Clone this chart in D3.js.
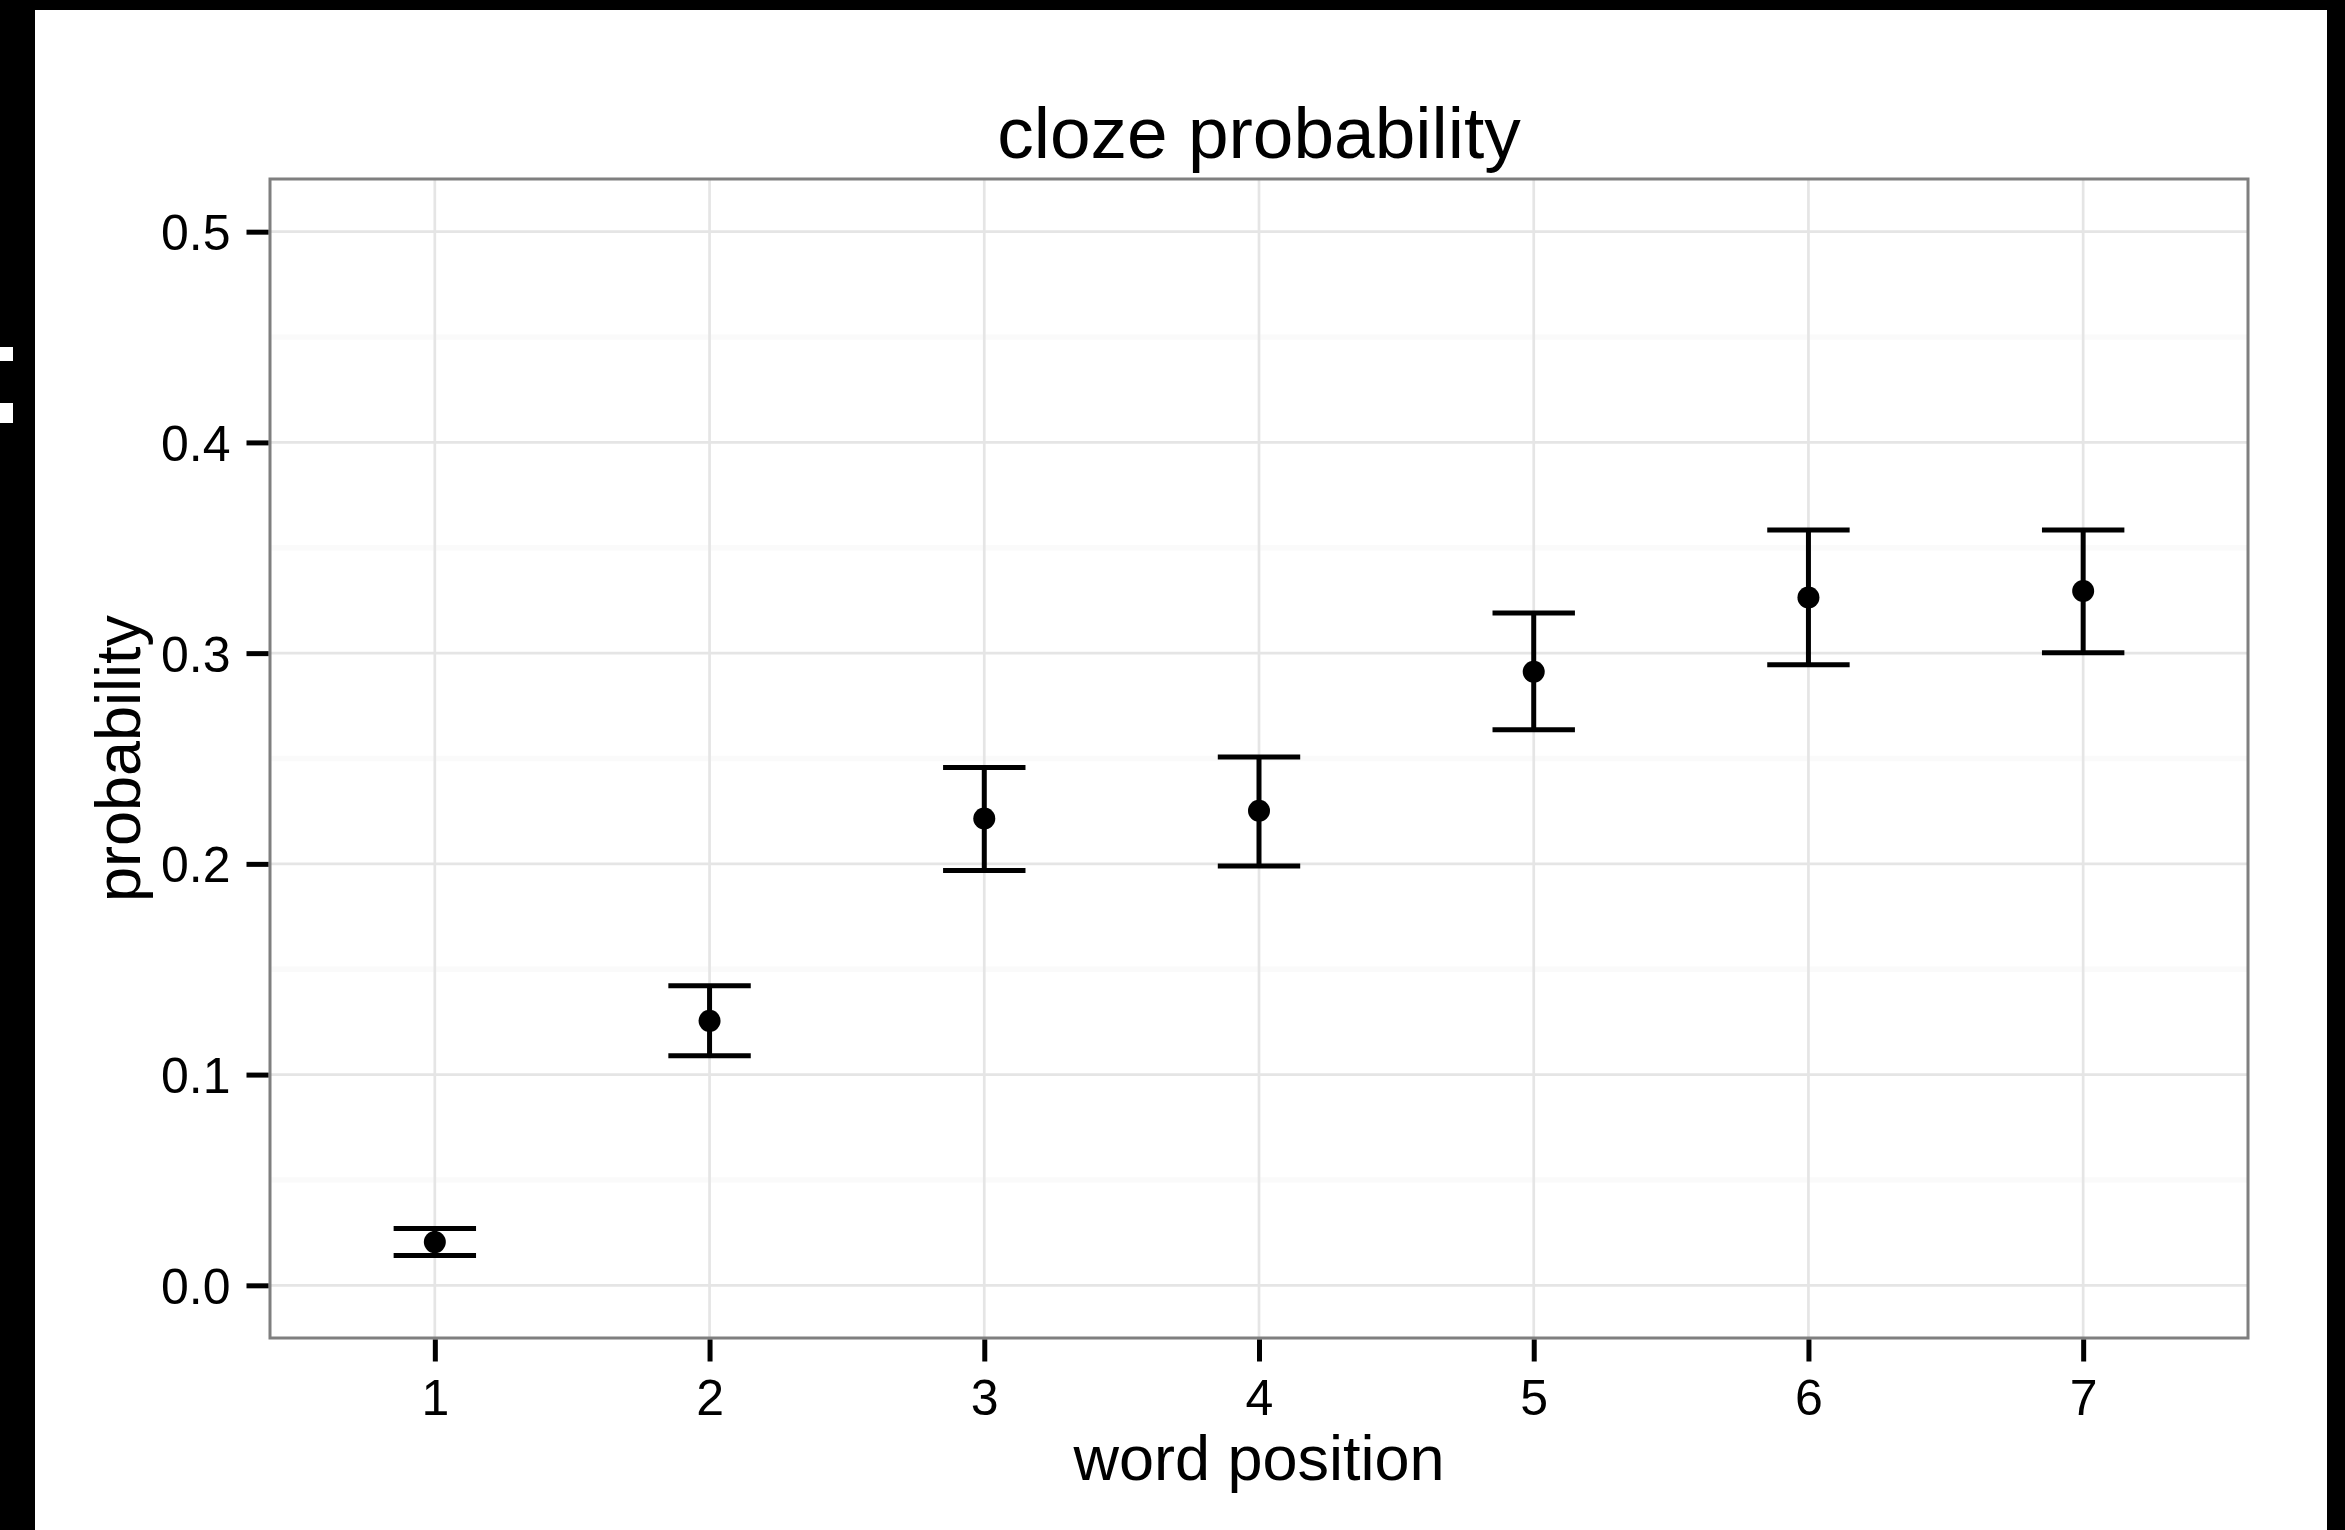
<!DOCTYPE html>
<html>
<head>
<meta charset="utf-8">
<script src="https://cdn.jsdelivr.net/npm/d3@7"></script>
<style>
  html, body { margin: 0; padding: 0; background: #000; }
  svg { display: block; }
  text { font-family: "Liberation Sans", Arial, Helvetica, sans-serif; fill: #000; }
</style>
</head>
<body>
<svg id="chart" width="2345" height="1530"></svg>
<script>
// ---- data ----
const positions = [1, 2, 3, 4, 5, 6, 7];
const means     = [0.0205, 0.1255, 0.2215, 0.2252, 0.2912, 0.3264, 0.3295];
const lower     = [0.0142, 0.1089, 0.1969, 0.1990, 0.2636, 0.2945, 0.3002];
const upper     = [0.0270, 0.1422, 0.2457, 0.2507, 0.3191, 0.3584, 0.3584];
const yTicks    = [0.0, 0.1, 0.2, 0.3, 0.4, 0.5];
const yMinor    = [0.05, 0.15, 0.25, 0.35, 0.45];
const titleText = "cloze probability";
const xLabel    = "word position";
const yLabel    = "probability";

const svg = d3.select("#chart");

// frame: black background with white canvas
svg.append("rect").attr("x", 0).attr("y", 0).attr("width", 2345).attr("height", 1530).attr("fill", "#000");
svg.append("rect").attr("x", 35).attr("y", 10).attr("width", 2292).attr("height", 1520).attr("fill", "#fff");
// small white marks on the left black strip
svg.append("rect").attr("x", 0).attr("y", 347).attr("width", 13).attr("height", 14).attr("fill", "#fff");
svg.append("rect").attr("x", 0).attr("y", 403).attr("width", 13).attr("height", 20).attr("fill", "#fff");

const pLeft = 270, pRight = 2248, pTop = 179, pBottom = 1338;

const x = d3.scalePoint().domain(positions).range([pLeft, pRight]).padding(0.6);
const y = d3.scaleLinear().domain([-0.025, 0.525]).range([pBottom, pTop]);
const step = x.step();

const g = svg.append("g");

// minor grid
g.selectAll("line.minor").data(yMinor).enter().append("line")
  .attr("x1", pLeft).attr("x2", pRight)
  .attr("y1", d => y(d)).attr("y2", d => y(d))
  .attr("stroke", "#fafafa").attr("stroke-width", 5.3);

// major grid horizontal
g.selectAll("line.majy").data(yTicks).enter().append("line")
  .attr("x1", pLeft).attr("x2", pRight)
  .attr("y1", d => y(d)).attr("y2", d => y(d))
  .attr("stroke", "#e5e5e5").attr("stroke-width", 2.7);

// major grid vertical
g.selectAll("line.majx").data(positions).enter().append("line")
  .attr("x1", d => x(d)).attr("x2", d => x(d))
  .attr("y1", pTop).attr("y2", pBottom)
  .attr("stroke", "#e5e5e5").attr("stroke-width", 2.7);

// error bars
const rows = positions.map((p, i) => ({ p, m: means[i], lo: lower[i], hi: upper[i] }));
const eb = g.selectAll("g.eb").data(rows).enter().append("g")
  .attr("stroke", "#000").attr("stroke-width", 5).attr("fill", "none");
eb.append("line").attr("x1", d => x(d.p)).attr("x2", d => x(d.p))
  .attr("y1", d => y(d.lo)).attr("y2", d => y(d.hi));
eb.append("line").attr("x1", d => x(d.p) - step * 0.15).attr("x2", d => x(d.p) + step * 0.15)
  .attr("y1", d => y(d.hi)).attr("y2", d => y(d.hi));
eb.append("line").attr("x1", d => x(d.p) - step * 0.15).attr("x2", d => x(d.p) + step * 0.15)
  .attr("y1", d => y(d.lo)).attr("y2", d => y(d.lo));

// points
g.selectAll("circle.pt").data(rows).enter().append("circle")
  .attr("cx", d => x(d.p)).attr("cy", d => y(d.m)).attr("r", 11).attr("fill", "#000");

// panel border
svg.append("rect").attr("x", pLeft).attr("y", pTop)
  .attr("width", pRight - pLeft).attr("height", pBottom - pTop)
  .attr("fill", "none").attr("stroke", "#7f7f7f").attr("stroke-width", 3);

// axes
const yAxis = svg.append("g").attr("transform", `translate(${pLeft - 1.5},0)`)
  .call(d3.axisLeft(y).tickValues(yTicks).tickFormat(d3.format(".1f")).tickSize(22).tickSizeOuter(0).tickPadding(16));
yAxis.select(".domain").remove();
yAxis.selectAll(".tick line").attr("stroke", "#000").attr("stroke-width", 5);
yAxis.selectAll(".tick text").attr("font-size", 50).attr("dy", "0.36em")
  .style("font-family", '"Liberation Sans", Arial, sans-serif');

const xAxis = svg.append("g").attr("transform", `translate(0,${pBottom + 1.5})`)
  .call(d3.axisBottom(x).tickSize(22).tickSizeOuter(0).tickPadding(16));
xAxis.select(".domain").remove();
xAxis.selectAll(".tick line").attr("stroke", "#000").attr("stroke-width", 5);
xAxis.selectAll(".tick text").attr("font-size", 50).attr("dy", null).attr("y", 1415 - pBottom - 1.5)
  .style("font-family", '"Liberation Sans", Arial, sans-serif');

// titles
const cx = (pLeft + pRight) / 2;
svg.append("text").attr("x", cx).attr("y", 158).attr("text-anchor", "middle")
  .attr("font-size", 73).text(titleText);
svg.append("text").attr("x", cx).attr("y", 1480).attr("text-anchor", "middle")
  .attr("font-size", 63).text(xLabel);
svg.append("text").attr("transform", `translate(140,${(pTop + pBottom) / 2}) rotate(-90)`)
  .attr("text-anchor", "middle").attr("font-size", 63).text(yLabel);
</script>
</body>
</html>
